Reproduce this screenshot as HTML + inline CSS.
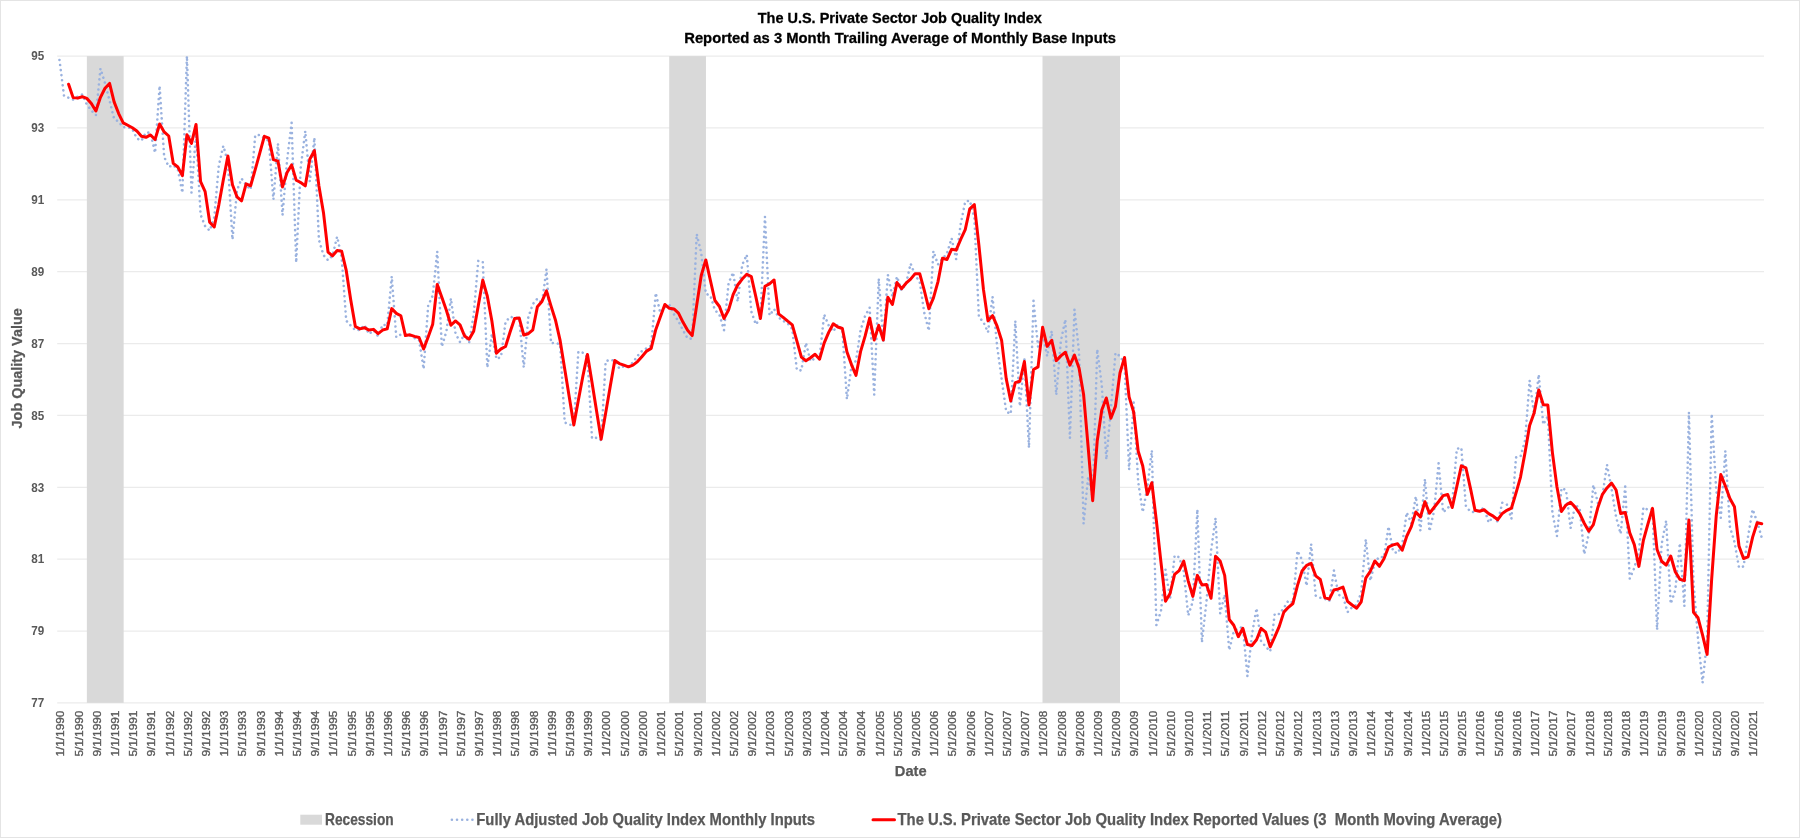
<!DOCTYPE html><html><head><meta charset="utf-8"><style>html,body{margin:0;padding:0;width:1800px;height:838px;overflow:hidden;background:#fff}</style></head><body><svg width="1800" height="838" viewBox="0 0 1800 838" style="position:absolute;left:0;top:0;will-change:transform">
<rect x="0" y="0" width="1800" height="838" fill="#fff"/>
<rect x="0.5" y="0.5" width="1799" height="837" fill="none" stroke="#e4e4e4" stroke-width="1"/>
<line x1="57.21" y1="702.89" x2="1764.03" y2="702.89" stroke="#ebebeb" stroke-width="1.2"/>
<line x1="57.21" y1="631.03" x2="1764.03" y2="631.03" stroke="#ebebeb" stroke-width="1.2"/>
<line x1="57.21" y1="559.16" x2="1764.03" y2="559.16" stroke="#ebebeb" stroke-width="1.2"/>
<line x1="57.21" y1="487.30" x2="1764.03" y2="487.30" stroke="#ebebeb" stroke-width="1.2"/>
<line x1="57.21" y1="415.43" x2="1764.03" y2="415.43" stroke="#ebebeb" stroke-width="1.2"/>
<line x1="57.21" y1="343.56" x2="1764.03" y2="343.56" stroke="#ebebeb" stroke-width="1.2"/>
<line x1="57.21" y1="271.70" x2="1764.03" y2="271.70" stroke="#ebebeb" stroke-width="1.2"/>
<line x1="57.21" y1="199.83" x2="1764.03" y2="199.83" stroke="#ebebeb" stroke-width="1.2"/>
<line x1="57.21" y1="127.97" x2="1764.03" y2="127.97" stroke="#ebebeb" stroke-width="1.2"/>
<line x1="57.21" y1="56.10" x2="1764.03" y2="56.10" stroke="#ebebeb" stroke-width="1.2"/>
<rect x="86.85" y="56.10" width="36.80" height="646.79" fill="#d9d9d9"/>
<rect x="669.20" y="56.10" width="36.75" height="646.79" fill="#d9d9d9"/>
<rect x="1042.50" y="56.10" width="77.50" height="646.79" fill="#d9d9d9"/>
<text x="44.3" y="707.19" text-anchor="end" font-family="Liberation Sans" font-weight="bold" font-size="12" fill="#595959" textLength="13" lengthAdjust="spacingAndGlyphs">77</text>
<text x="44.3" y="635.33" text-anchor="end" font-family="Liberation Sans" font-weight="bold" font-size="12" fill="#595959" textLength="13" lengthAdjust="spacingAndGlyphs">79</text>
<text x="44.3" y="563.46" text-anchor="end" font-family="Liberation Sans" font-weight="bold" font-size="12" fill="#595959" textLength="13" lengthAdjust="spacingAndGlyphs">81</text>
<text x="44.3" y="491.60" text-anchor="end" font-family="Liberation Sans" font-weight="bold" font-size="12" fill="#595959" textLength="13" lengthAdjust="spacingAndGlyphs">83</text>
<text x="44.3" y="419.73" text-anchor="end" font-family="Liberation Sans" font-weight="bold" font-size="12" fill="#595959" textLength="13" lengthAdjust="spacingAndGlyphs">85</text>
<text x="44.3" y="347.86" text-anchor="end" font-family="Liberation Sans" font-weight="bold" font-size="12" fill="#595959" textLength="13" lengthAdjust="spacingAndGlyphs">87</text>
<text x="44.3" y="276.00" text-anchor="end" font-family="Liberation Sans" font-weight="bold" font-size="12" fill="#595959" textLength="13" lengthAdjust="spacingAndGlyphs">89</text>
<text x="44.3" y="204.13" text-anchor="end" font-family="Liberation Sans" font-weight="bold" font-size="12" fill="#595959" textLength="13" lengthAdjust="spacingAndGlyphs">91</text>
<text x="44.3" y="132.27" text-anchor="end" font-family="Liberation Sans" font-weight="bold" font-size="12" fill="#595959" textLength="13" lengthAdjust="spacingAndGlyphs">93</text>
<text x="44.3" y="60.40" text-anchor="end" font-family="Liberation Sans" font-weight="bold" font-size="12" fill="#595959" textLength="13" lengthAdjust="spacingAndGlyphs">95</text>
<text transform="translate(64.29,710.6) rotate(-90)" text-anchor="end" font-family="Liberation Sans" font-weight="normal" font-size="11.5" fill="#595959" stroke="#595959" stroke-width="0.35" textLength="46" lengthAdjust="spacingAndGlyphs">1/1/1990</text>
<text transform="translate(82.50,710.6) rotate(-90)" text-anchor="end" font-family="Liberation Sans" font-weight="normal" font-size="11.5" fill="#595959" stroke="#595959" stroke-width="0.35" textLength="46" lengthAdjust="spacingAndGlyphs">5/1/1990</text>
<text transform="translate(100.70,710.6) rotate(-90)" text-anchor="end" font-family="Liberation Sans" font-weight="normal" font-size="11.5" fill="#595959" stroke="#595959" stroke-width="0.35" textLength="46" lengthAdjust="spacingAndGlyphs">9/1/1990</text>
<text transform="translate(118.91,710.6) rotate(-90)" text-anchor="end" font-family="Liberation Sans" font-weight="normal" font-size="11.5" fill="#595959" stroke="#595959" stroke-width="0.35" textLength="46" lengthAdjust="spacingAndGlyphs">1/1/1991</text>
<text transform="translate(137.11,710.6) rotate(-90)" text-anchor="end" font-family="Liberation Sans" font-weight="normal" font-size="11.5" fill="#595959" stroke="#595959" stroke-width="0.35" textLength="46" lengthAdjust="spacingAndGlyphs">5/1/1991</text>
<text transform="translate(155.32,710.6) rotate(-90)" text-anchor="end" font-family="Liberation Sans" font-weight="normal" font-size="11.5" fill="#595959" stroke="#595959" stroke-width="0.35" textLength="46" lengthAdjust="spacingAndGlyphs">9/1/1991</text>
<text transform="translate(173.53,710.6) rotate(-90)" text-anchor="end" font-family="Liberation Sans" font-weight="normal" font-size="11.5" fill="#595959" stroke="#595959" stroke-width="0.35" textLength="46" lengthAdjust="spacingAndGlyphs">1/1/1992</text>
<text transform="translate(191.73,710.6) rotate(-90)" text-anchor="end" font-family="Liberation Sans" font-weight="normal" font-size="11.5" fill="#595959" stroke="#595959" stroke-width="0.35" textLength="46" lengthAdjust="spacingAndGlyphs">5/1/1992</text>
<text transform="translate(209.94,710.6) rotate(-90)" text-anchor="end" font-family="Liberation Sans" font-weight="normal" font-size="11.5" fill="#595959" stroke="#595959" stroke-width="0.35" textLength="46" lengthAdjust="spacingAndGlyphs">9/1/1992</text>
<text transform="translate(228.14,710.6) rotate(-90)" text-anchor="end" font-family="Liberation Sans" font-weight="normal" font-size="11.5" fill="#595959" stroke="#595959" stroke-width="0.35" textLength="46" lengthAdjust="spacingAndGlyphs">1/1/1993</text>
<text transform="translate(246.35,710.6) rotate(-90)" text-anchor="end" font-family="Liberation Sans" font-weight="normal" font-size="11.5" fill="#595959" stroke="#595959" stroke-width="0.35" textLength="46" lengthAdjust="spacingAndGlyphs">5/1/1993</text>
<text transform="translate(264.56,710.6) rotate(-90)" text-anchor="end" font-family="Liberation Sans" font-weight="normal" font-size="11.5" fill="#595959" stroke="#595959" stroke-width="0.35" textLength="46" lengthAdjust="spacingAndGlyphs">9/1/1993</text>
<text transform="translate(282.76,710.6) rotate(-90)" text-anchor="end" font-family="Liberation Sans" font-weight="normal" font-size="11.5" fill="#595959" stroke="#595959" stroke-width="0.35" textLength="46" lengthAdjust="spacingAndGlyphs">1/1/1994</text>
<text transform="translate(300.97,710.6) rotate(-90)" text-anchor="end" font-family="Liberation Sans" font-weight="normal" font-size="11.5" fill="#595959" stroke="#595959" stroke-width="0.35" textLength="46" lengthAdjust="spacingAndGlyphs">5/1/1994</text>
<text transform="translate(319.17,710.6) rotate(-90)" text-anchor="end" font-family="Liberation Sans" font-weight="normal" font-size="11.5" fill="#595959" stroke="#595959" stroke-width="0.35" textLength="46" lengthAdjust="spacingAndGlyphs">9/1/1994</text>
<text transform="translate(337.38,710.6) rotate(-90)" text-anchor="end" font-family="Liberation Sans" font-weight="normal" font-size="11.5" fill="#595959" stroke="#595959" stroke-width="0.35" textLength="46" lengthAdjust="spacingAndGlyphs">1/1/1995</text>
<text transform="translate(355.59,710.6) rotate(-90)" text-anchor="end" font-family="Liberation Sans" font-weight="normal" font-size="11.5" fill="#595959" stroke="#595959" stroke-width="0.35" textLength="46" lengthAdjust="spacingAndGlyphs">5/1/1995</text>
<text transform="translate(373.79,710.6) rotate(-90)" text-anchor="end" font-family="Liberation Sans" font-weight="normal" font-size="11.5" fill="#595959" stroke="#595959" stroke-width="0.35" textLength="46" lengthAdjust="spacingAndGlyphs">9/1/1995</text>
<text transform="translate(392.00,710.6) rotate(-90)" text-anchor="end" font-family="Liberation Sans" font-weight="normal" font-size="11.5" fill="#595959" stroke="#595959" stroke-width="0.35" textLength="46" lengthAdjust="spacingAndGlyphs">1/1/1996</text>
<text transform="translate(410.20,710.6) rotate(-90)" text-anchor="end" font-family="Liberation Sans" font-weight="normal" font-size="11.5" fill="#595959" stroke="#595959" stroke-width="0.35" textLength="46" lengthAdjust="spacingAndGlyphs">5/1/1996</text>
<text transform="translate(428.41,710.6) rotate(-90)" text-anchor="end" font-family="Liberation Sans" font-weight="normal" font-size="11.5" fill="#595959" stroke="#595959" stroke-width="0.35" textLength="46" lengthAdjust="spacingAndGlyphs">9/1/1996</text>
<text transform="translate(446.62,710.6) rotate(-90)" text-anchor="end" font-family="Liberation Sans" font-weight="normal" font-size="11.5" fill="#595959" stroke="#595959" stroke-width="0.35" textLength="46" lengthAdjust="spacingAndGlyphs">1/1/1997</text>
<text transform="translate(464.82,710.6) rotate(-90)" text-anchor="end" font-family="Liberation Sans" font-weight="normal" font-size="11.5" fill="#595959" stroke="#595959" stroke-width="0.35" textLength="46" lengthAdjust="spacingAndGlyphs">5/1/1997</text>
<text transform="translate(483.03,710.6) rotate(-90)" text-anchor="end" font-family="Liberation Sans" font-weight="normal" font-size="11.5" fill="#595959" stroke="#595959" stroke-width="0.35" textLength="46" lengthAdjust="spacingAndGlyphs">9/1/1997</text>
<text transform="translate(501.23,710.6) rotate(-90)" text-anchor="end" font-family="Liberation Sans" font-weight="normal" font-size="11.5" fill="#595959" stroke="#595959" stroke-width="0.35" textLength="46" lengthAdjust="spacingAndGlyphs">1/1/1998</text>
<text transform="translate(519.44,710.6) rotate(-90)" text-anchor="end" font-family="Liberation Sans" font-weight="normal" font-size="11.5" fill="#595959" stroke="#595959" stroke-width="0.35" textLength="46" lengthAdjust="spacingAndGlyphs">5/1/1998</text>
<text transform="translate(537.65,710.6) rotate(-90)" text-anchor="end" font-family="Liberation Sans" font-weight="normal" font-size="11.5" fill="#595959" stroke="#595959" stroke-width="0.35" textLength="46" lengthAdjust="spacingAndGlyphs">9/1/1998</text>
<text transform="translate(555.85,710.6) rotate(-90)" text-anchor="end" font-family="Liberation Sans" font-weight="normal" font-size="11.5" fill="#595959" stroke="#595959" stroke-width="0.35" textLength="46" lengthAdjust="spacingAndGlyphs">1/1/1999</text>
<text transform="translate(574.06,710.6) rotate(-90)" text-anchor="end" font-family="Liberation Sans" font-weight="normal" font-size="11.5" fill="#595959" stroke="#595959" stroke-width="0.35" textLength="46" lengthAdjust="spacingAndGlyphs">5/1/1999</text>
<text transform="translate(592.26,710.6) rotate(-90)" text-anchor="end" font-family="Liberation Sans" font-weight="normal" font-size="11.5" fill="#595959" stroke="#595959" stroke-width="0.35" textLength="46" lengthAdjust="spacingAndGlyphs">9/1/1999</text>
<text transform="translate(610.47,710.6) rotate(-90)" text-anchor="end" font-family="Liberation Sans" font-weight="normal" font-size="11.5" fill="#595959" stroke="#595959" stroke-width="0.35" textLength="46" lengthAdjust="spacingAndGlyphs">1/1/2000</text>
<text transform="translate(628.68,710.6) rotate(-90)" text-anchor="end" font-family="Liberation Sans" font-weight="normal" font-size="11.5" fill="#595959" stroke="#595959" stroke-width="0.35" textLength="46" lengthAdjust="spacingAndGlyphs">5/1/2000</text>
<text transform="translate(646.88,710.6) rotate(-90)" text-anchor="end" font-family="Liberation Sans" font-weight="normal" font-size="11.5" fill="#595959" stroke="#595959" stroke-width="0.35" textLength="46" lengthAdjust="spacingAndGlyphs">9/1/2000</text>
<text transform="translate(665.09,710.6) rotate(-90)" text-anchor="end" font-family="Liberation Sans" font-weight="normal" font-size="11.5" fill="#595959" stroke="#595959" stroke-width="0.35" textLength="46" lengthAdjust="spacingAndGlyphs">1/1/2001</text>
<text transform="translate(683.29,710.6) rotate(-90)" text-anchor="end" font-family="Liberation Sans" font-weight="normal" font-size="11.5" fill="#595959" stroke="#595959" stroke-width="0.35" textLength="46" lengthAdjust="spacingAndGlyphs">5/1/2001</text>
<text transform="translate(701.50,710.6) rotate(-90)" text-anchor="end" font-family="Liberation Sans" font-weight="normal" font-size="11.5" fill="#595959" stroke="#595959" stroke-width="0.35" textLength="46" lengthAdjust="spacingAndGlyphs">9/1/2001</text>
<text transform="translate(719.71,710.6) rotate(-90)" text-anchor="end" font-family="Liberation Sans" font-weight="normal" font-size="11.5" fill="#595959" stroke="#595959" stroke-width="0.35" textLength="46" lengthAdjust="spacingAndGlyphs">1/1/2002</text>
<text transform="translate(737.91,710.6) rotate(-90)" text-anchor="end" font-family="Liberation Sans" font-weight="normal" font-size="11.5" fill="#595959" stroke="#595959" stroke-width="0.35" textLength="46" lengthAdjust="spacingAndGlyphs">5/1/2002</text>
<text transform="translate(756.12,710.6) rotate(-90)" text-anchor="end" font-family="Liberation Sans" font-weight="normal" font-size="11.5" fill="#595959" stroke="#595959" stroke-width="0.35" textLength="46" lengthAdjust="spacingAndGlyphs">9/1/2002</text>
<text transform="translate(774.32,710.6) rotate(-90)" text-anchor="end" font-family="Liberation Sans" font-weight="normal" font-size="11.5" fill="#595959" stroke="#595959" stroke-width="0.35" textLength="46" lengthAdjust="spacingAndGlyphs">1/1/2003</text>
<text transform="translate(792.53,710.6) rotate(-90)" text-anchor="end" font-family="Liberation Sans" font-weight="normal" font-size="11.5" fill="#595959" stroke="#595959" stroke-width="0.35" textLength="46" lengthAdjust="spacingAndGlyphs">5/1/2003</text>
<text transform="translate(810.74,710.6) rotate(-90)" text-anchor="end" font-family="Liberation Sans" font-weight="normal" font-size="11.5" fill="#595959" stroke="#595959" stroke-width="0.35" textLength="46" lengthAdjust="spacingAndGlyphs">9/1/2003</text>
<text transform="translate(828.94,710.6) rotate(-90)" text-anchor="end" font-family="Liberation Sans" font-weight="normal" font-size="11.5" fill="#595959" stroke="#595959" stroke-width="0.35" textLength="46" lengthAdjust="spacingAndGlyphs">1/1/2004</text>
<text transform="translate(847.15,710.6) rotate(-90)" text-anchor="end" font-family="Liberation Sans" font-weight="normal" font-size="11.5" fill="#595959" stroke="#595959" stroke-width="0.35" textLength="46" lengthAdjust="spacingAndGlyphs">5/1/2004</text>
<text transform="translate(865.35,710.6) rotate(-90)" text-anchor="end" font-family="Liberation Sans" font-weight="normal" font-size="11.5" fill="#595959" stroke="#595959" stroke-width="0.35" textLength="46" lengthAdjust="spacingAndGlyphs">9/1/2004</text>
<text transform="translate(883.56,710.6) rotate(-90)" text-anchor="end" font-family="Liberation Sans" font-weight="normal" font-size="11.5" fill="#595959" stroke="#595959" stroke-width="0.35" textLength="46" lengthAdjust="spacingAndGlyphs">1/1/2005</text>
<text transform="translate(901.77,710.6) rotate(-90)" text-anchor="end" font-family="Liberation Sans" font-weight="normal" font-size="11.5" fill="#595959" stroke="#595959" stroke-width="0.35" textLength="46" lengthAdjust="spacingAndGlyphs">5/1/2005</text>
<text transform="translate(919.97,710.6) rotate(-90)" text-anchor="end" font-family="Liberation Sans" font-weight="normal" font-size="11.5" fill="#595959" stroke="#595959" stroke-width="0.35" textLength="46" lengthAdjust="spacingAndGlyphs">9/1/2005</text>
<text transform="translate(938.18,710.6) rotate(-90)" text-anchor="end" font-family="Liberation Sans" font-weight="normal" font-size="11.5" fill="#595959" stroke="#595959" stroke-width="0.35" textLength="46" lengthAdjust="spacingAndGlyphs">1/1/2006</text>
<text transform="translate(956.38,710.6) rotate(-90)" text-anchor="end" font-family="Liberation Sans" font-weight="normal" font-size="11.5" fill="#595959" stroke="#595959" stroke-width="0.35" textLength="46" lengthAdjust="spacingAndGlyphs">5/1/2006</text>
<text transform="translate(974.59,710.6) rotate(-90)" text-anchor="end" font-family="Liberation Sans" font-weight="normal" font-size="11.5" fill="#595959" stroke="#595959" stroke-width="0.35" textLength="46" lengthAdjust="spacingAndGlyphs">9/1/2006</text>
<text transform="translate(992.80,710.6) rotate(-90)" text-anchor="end" font-family="Liberation Sans" font-weight="normal" font-size="11.5" fill="#595959" stroke="#595959" stroke-width="0.35" textLength="46" lengthAdjust="spacingAndGlyphs">1/1/2007</text>
<text transform="translate(1011.00,710.6) rotate(-90)" text-anchor="end" font-family="Liberation Sans" font-weight="normal" font-size="11.5" fill="#595959" stroke="#595959" stroke-width="0.35" textLength="46" lengthAdjust="spacingAndGlyphs">5/1/2007</text>
<text transform="translate(1029.21,710.6) rotate(-90)" text-anchor="end" font-family="Liberation Sans" font-weight="normal" font-size="11.5" fill="#595959" stroke="#595959" stroke-width="0.35" textLength="46" lengthAdjust="spacingAndGlyphs">9/1/2007</text>
<text transform="translate(1047.41,710.6) rotate(-90)" text-anchor="end" font-family="Liberation Sans" font-weight="normal" font-size="11.5" fill="#595959" stroke="#595959" stroke-width="0.35" textLength="46" lengthAdjust="spacingAndGlyphs">1/1/2008</text>
<text transform="translate(1065.62,710.6) rotate(-90)" text-anchor="end" font-family="Liberation Sans" font-weight="normal" font-size="11.5" fill="#595959" stroke="#595959" stroke-width="0.35" textLength="46" lengthAdjust="spacingAndGlyphs">5/1/2008</text>
<text transform="translate(1083.83,710.6) rotate(-90)" text-anchor="end" font-family="Liberation Sans" font-weight="normal" font-size="11.5" fill="#595959" stroke="#595959" stroke-width="0.35" textLength="46" lengthAdjust="spacingAndGlyphs">9/1/2008</text>
<text transform="translate(1102.03,710.6) rotate(-90)" text-anchor="end" font-family="Liberation Sans" font-weight="normal" font-size="11.5" fill="#595959" stroke="#595959" stroke-width="0.35" textLength="46" lengthAdjust="spacingAndGlyphs">1/1/2009</text>
<text transform="translate(1120.24,710.6) rotate(-90)" text-anchor="end" font-family="Liberation Sans" font-weight="normal" font-size="11.5" fill="#595959" stroke="#595959" stroke-width="0.35" textLength="46" lengthAdjust="spacingAndGlyphs">5/1/2009</text>
<text transform="translate(1138.44,710.6) rotate(-90)" text-anchor="end" font-family="Liberation Sans" font-weight="normal" font-size="11.5" fill="#595959" stroke="#595959" stroke-width="0.35" textLength="46" lengthAdjust="spacingAndGlyphs">9/1/2009</text>
<text transform="translate(1156.65,710.6) rotate(-90)" text-anchor="end" font-family="Liberation Sans" font-weight="normal" font-size="11.5" fill="#595959" stroke="#595959" stroke-width="0.35" textLength="46" lengthAdjust="spacingAndGlyphs">1/1/2010</text>
<text transform="translate(1174.86,710.6) rotate(-90)" text-anchor="end" font-family="Liberation Sans" font-weight="normal" font-size="11.5" fill="#595959" stroke="#595959" stroke-width="0.35" textLength="46" lengthAdjust="spacingAndGlyphs">5/1/2010</text>
<text transform="translate(1193.06,710.6) rotate(-90)" text-anchor="end" font-family="Liberation Sans" font-weight="normal" font-size="11.5" fill="#595959" stroke="#595959" stroke-width="0.35" textLength="46" lengthAdjust="spacingAndGlyphs">9/1/2010</text>
<text transform="translate(1211.27,710.6) rotate(-90)" text-anchor="end" font-family="Liberation Sans" font-weight="normal" font-size="11.5" fill="#595959" stroke="#595959" stroke-width="0.35" textLength="46" lengthAdjust="spacingAndGlyphs">1/1/2011</text>
<text transform="translate(1229.47,710.6) rotate(-90)" text-anchor="end" font-family="Liberation Sans" font-weight="normal" font-size="11.5" fill="#595959" stroke="#595959" stroke-width="0.35" textLength="46" lengthAdjust="spacingAndGlyphs">5/1/2011</text>
<text transform="translate(1247.68,710.6) rotate(-90)" text-anchor="end" font-family="Liberation Sans" font-weight="normal" font-size="11.5" fill="#595959" stroke="#595959" stroke-width="0.35" textLength="46" lengthAdjust="spacingAndGlyphs">9/1/2011</text>
<text transform="translate(1265.89,710.6) rotate(-90)" text-anchor="end" font-family="Liberation Sans" font-weight="normal" font-size="11.5" fill="#595959" stroke="#595959" stroke-width="0.35" textLength="46" lengthAdjust="spacingAndGlyphs">1/1/2012</text>
<text transform="translate(1284.09,710.6) rotate(-90)" text-anchor="end" font-family="Liberation Sans" font-weight="normal" font-size="11.5" fill="#595959" stroke="#595959" stroke-width="0.35" textLength="46" lengthAdjust="spacingAndGlyphs">5/1/2012</text>
<text transform="translate(1302.30,710.6) rotate(-90)" text-anchor="end" font-family="Liberation Sans" font-weight="normal" font-size="11.5" fill="#595959" stroke="#595959" stroke-width="0.35" textLength="46" lengthAdjust="spacingAndGlyphs">9/1/2012</text>
<text transform="translate(1320.50,710.6) rotate(-90)" text-anchor="end" font-family="Liberation Sans" font-weight="normal" font-size="11.5" fill="#595959" stroke="#595959" stroke-width="0.35" textLength="46" lengthAdjust="spacingAndGlyphs">1/1/2013</text>
<text transform="translate(1338.71,710.6) rotate(-90)" text-anchor="end" font-family="Liberation Sans" font-weight="normal" font-size="11.5" fill="#595959" stroke="#595959" stroke-width="0.35" textLength="46" lengthAdjust="spacingAndGlyphs">5/1/2013</text>
<text transform="translate(1356.92,710.6) rotate(-90)" text-anchor="end" font-family="Liberation Sans" font-weight="normal" font-size="11.5" fill="#595959" stroke="#595959" stroke-width="0.35" textLength="46" lengthAdjust="spacingAndGlyphs">9/1/2013</text>
<text transform="translate(1375.12,710.6) rotate(-90)" text-anchor="end" font-family="Liberation Sans" font-weight="normal" font-size="11.5" fill="#595959" stroke="#595959" stroke-width="0.35" textLength="46" lengthAdjust="spacingAndGlyphs">1/1/2014</text>
<text transform="translate(1393.33,710.6) rotate(-90)" text-anchor="end" font-family="Liberation Sans" font-weight="normal" font-size="11.5" fill="#595959" stroke="#595959" stroke-width="0.35" textLength="46" lengthAdjust="spacingAndGlyphs">5/1/2014</text>
<text transform="translate(1411.53,710.6) rotate(-90)" text-anchor="end" font-family="Liberation Sans" font-weight="normal" font-size="11.5" fill="#595959" stroke="#595959" stroke-width="0.35" textLength="46" lengthAdjust="spacingAndGlyphs">9/1/2014</text>
<text transform="translate(1429.74,710.6) rotate(-90)" text-anchor="end" font-family="Liberation Sans" font-weight="normal" font-size="11.5" fill="#595959" stroke="#595959" stroke-width="0.35" textLength="46" lengthAdjust="spacingAndGlyphs">1/1/2015</text>
<text transform="translate(1447.95,710.6) rotate(-90)" text-anchor="end" font-family="Liberation Sans" font-weight="normal" font-size="11.5" fill="#595959" stroke="#595959" stroke-width="0.35" textLength="46" lengthAdjust="spacingAndGlyphs">5/1/2015</text>
<text transform="translate(1466.15,710.6) rotate(-90)" text-anchor="end" font-family="Liberation Sans" font-weight="normal" font-size="11.5" fill="#595959" stroke="#595959" stroke-width="0.35" textLength="46" lengthAdjust="spacingAndGlyphs">9/1/2015</text>
<text transform="translate(1484.36,710.6) rotate(-90)" text-anchor="end" font-family="Liberation Sans" font-weight="normal" font-size="11.5" fill="#595959" stroke="#595959" stroke-width="0.35" textLength="46" lengthAdjust="spacingAndGlyphs">1/1/2016</text>
<text transform="translate(1502.56,710.6) rotate(-90)" text-anchor="end" font-family="Liberation Sans" font-weight="normal" font-size="11.5" fill="#595959" stroke="#595959" stroke-width="0.35" textLength="46" lengthAdjust="spacingAndGlyphs">5/1/2016</text>
<text transform="translate(1520.77,710.6) rotate(-90)" text-anchor="end" font-family="Liberation Sans" font-weight="normal" font-size="11.5" fill="#595959" stroke="#595959" stroke-width="0.35" textLength="46" lengthAdjust="spacingAndGlyphs">9/1/2016</text>
<text transform="translate(1538.98,710.6) rotate(-90)" text-anchor="end" font-family="Liberation Sans" font-weight="normal" font-size="11.5" fill="#595959" stroke="#595959" stroke-width="0.35" textLength="46" lengthAdjust="spacingAndGlyphs">1/1/2017</text>
<text transform="translate(1557.18,710.6) rotate(-90)" text-anchor="end" font-family="Liberation Sans" font-weight="normal" font-size="11.5" fill="#595959" stroke="#595959" stroke-width="0.35" textLength="46" lengthAdjust="spacingAndGlyphs">5/1/2017</text>
<text transform="translate(1575.39,710.6) rotate(-90)" text-anchor="end" font-family="Liberation Sans" font-weight="normal" font-size="11.5" fill="#595959" stroke="#595959" stroke-width="0.35" textLength="46" lengthAdjust="spacingAndGlyphs">9/1/2017</text>
<text transform="translate(1593.59,710.6) rotate(-90)" text-anchor="end" font-family="Liberation Sans" font-weight="normal" font-size="11.5" fill="#595959" stroke="#595959" stroke-width="0.35" textLength="46" lengthAdjust="spacingAndGlyphs">1/1/2018</text>
<text transform="translate(1611.80,710.6) rotate(-90)" text-anchor="end" font-family="Liberation Sans" font-weight="normal" font-size="11.5" fill="#595959" stroke="#595959" stroke-width="0.35" textLength="46" lengthAdjust="spacingAndGlyphs">5/1/2018</text>
<text transform="translate(1630.01,710.6) rotate(-90)" text-anchor="end" font-family="Liberation Sans" font-weight="normal" font-size="11.5" fill="#595959" stroke="#595959" stroke-width="0.35" textLength="46" lengthAdjust="spacingAndGlyphs">9/1/2018</text>
<text transform="translate(1648.21,710.6) rotate(-90)" text-anchor="end" font-family="Liberation Sans" font-weight="normal" font-size="11.5" fill="#595959" stroke="#595959" stroke-width="0.35" textLength="46" lengthAdjust="spacingAndGlyphs">1/1/2019</text>
<text transform="translate(1666.42,710.6) rotate(-90)" text-anchor="end" font-family="Liberation Sans" font-weight="normal" font-size="11.5" fill="#595959" stroke="#595959" stroke-width="0.35" textLength="46" lengthAdjust="spacingAndGlyphs">5/1/2019</text>
<text transform="translate(1684.62,710.6) rotate(-90)" text-anchor="end" font-family="Liberation Sans" font-weight="normal" font-size="11.5" fill="#595959" stroke="#595959" stroke-width="0.35" textLength="46" lengthAdjust="spacingAndGlyphs">9/1/2019</text>
<text transform="translate(1702.83,710.6) rotate(-90)" text-anchor="end" font-family="Liberation Sans" font-weight="normal" font-size="11.5" fill="#595959" stroke="#595959" stroke-width="0.35" textLength="46" lengthAdjust="spacingAndGlyphs">1/1/2020</text>
<text transform="translate(1721.04,710.6) rotate(-90)" text-anchor="end" font-family="Liberation Sans" font-weight="normal" font-size="11.5" fill="#595959" stroke="#595959" stroke-width="0.35" textLength="46" lengthAdjust="spacingAndGlyphs">5/1/2020</text>
<text transform="translate(1739.24,710.6) rotate(-90)" text-anchor="end" font-family="Liberation Sans" font-weight="normal" font-size="11.5" fill="#595959" stroke="#595959" stroke-width="0.35" textLength="46" lengthAdjust="spacingAndGlyphs">9/1/2020</text>
<text transform="translate(1757.45,710.6) rotate(-90)" text-anchor="end" font-family="Liberation Sans" font-weight="normal" font-size="11.5" fill="#595959" stroke="#595959" stroke-width="0.35" textLength="46" lengthAdjust="spacingAndGlyphs">1/1/2021</text>
<path d="M59.49,59.97 L64.04,95.98 L68.59,97.73 L73.14,99.50 L77.70,96.57 L82.25,94.43 L86.80,104.52 L91.35,110.47 L95.90,115.15 L100.45,68.53 L105.00,83.07 L109.56,100.60 L114.11,118.86 L118.66,121.67 L123.21,127.24 L127.76,127.09 L132.31,129.08 L136.87,138.47 L141.42,140.73 L145.97,132.46 L150.52,132.83 L155.07,152.84 L159.62,85.78 L164.17,156.93 L168.73,166.78 L173.28,165.21 L177.83,169.21 L182.38,192.85 L186.93,56.10 L191.48,192.58 L196.03,133.24 L200.59,214.68 L205.14,226.19 L209.69,230.66 L214.24,217.39 L218.79,165.60 L223.34,145.85 L227.90,162.18 L232.45,239.56 L237.00,190.36 L241.55,178.56 L246.10,184.85 L250.65,189.64 L255.20,135.38 L259.76,134.99 L264.31,138.34 L268.86,140.90 L273.41,199.61 L277.96,143.63 L282.51,215.14 L287.06,160.42 L291.62,122.84 L296.17,262.61 L300.72,167.60 L305.27,131.06 L309.82,181.46 L314.37,137.77 L318.93,239.86 L323.48,255.14 L328.03,260.30 L332.58,255.35 L337.13,236.65 L341.68,257.66 L346.23,320.63 L350.79,325.72 L355.34,330.17 L359.89,329.98 L364.44,324.97 L368.99,334.04 L373.54,330.24 L378.10,336.12 L382.65,324.61 L387.20,325.48 L391.75,276.41 L396.30,337.24 L400.85,334.48 L405.40,334.57 L409.96,335.61 L414.51,337.98 L419.06,340.18 L423.61,368.96 L428.16,305.69 L432.71,295.56 L437.26,251.49 L441.82,346.80 L446.37,331.49 L450.92,298.41 L455.47,333.17 L460.02,342.08 L464.57,333.96 L469.12,342.90 L473.68,314.42 L478.23,260.92 L482.78,261.68 L487.33,367.67 L491.88,333.57 L496.43,359.07 L500.99,356.79 L505.54,322.05 L510.09,316.80 L514.64,317.81 L519.19,317.99 L523.74,367.48 L528.29,317.31 L532.85,304.01 L537.40,298.61 L541.95,303.11 L546.50,269.19 L551.05,343.18 L555.60,342.84 L560.15,344.43 L564.71,422.52 L569.26,424.58 L573.81,425.43 L578.36,351.68 L582.91,352.73 L587.46,357.39 L592.02,438.44 L596.57,437.81 L601.12,440.23 L605.67,361.23 L610.22,359.65 L614.77,360.89 L619.32,368.44 L623.88,366.16 L628.43,366.23 L632.98,362.44 L637.53,355.89 L642.08,350.76 L646.63,348.32 L651.18,345.65 L655.74,293.01 L660.29,312.81 L664.84,307.20 L669.39,304.89 L673.94,314.27 L678.49,321.34 L683.05,330.31 L687.60,338.51 L692.15,338.68 L696.70,234.05 L701.25,253.17 L705.80,293.81 L710.35,295.51 L714.91,310.03 L719.46,314.85 L724.01,330.16 L728.56,283.21 L733.11,272.46 L737.66,301.69 L742.22,264.87 L746.77,254.69 L751.32,311.53 L755.87,324.47 L760.42,317.70 L764.97,216.75 L769.52,315.41 L774.08,309.04 L778.63,317.45 L783.18,321.02 L787.73,323.34 L792.28,329.00 L796.83,369.88 L801.38,370.46 L805.94,342.87 L810.49,361.19 L815.04,358.24 L819.59,357.37 L824.14,314.52 L828.69,325.36 L833.25,331.59 L837.80,324.31 L842.35,330.04 L846.90,399.27 L851.45,366.10 L856.00,360.76 L860.55,330.29 L865.11,315.90 L869.66,307.70 L874.21,394.75 L878.76,278.71 L883.31,340.78 L887.86,274.76 L892.41,296.74 L896.97,276.57 L901.52,290.39 L906.07,283.64 L910.62,263.59 L915.17,275.25 L919.72,281.85 L924.27,312.76 L928.83,330.74 L933.38,251.13 L937.93,264.49 L942.48,258.66 L947.03,253.35 L951.58,238.23 L956.14,259.22 L960.69,223.99 L965.24,201.58 L969.79,200.62 L974.34,217.58 L978.89,317.05 L983.44,322.18 L988.00,332.38 L992.55,296.68 L997.10,346.09 L1001.65,379.06 L1006.20,411.68 L1010.75,413.97 L1015.30,320.75 L1019.86,406.33 L1024.41,359.01 L1028.96,447.70 L1033.51,300.79 L1038.06,346.87 L1042.61,334.04 L1047.17,356.31 L1051.72,331.05 L1056.27,394.96 L1060.82,341.37 L1065.37,319.47 L1069.92,438.12 L1074.47,309.43 L1079.03,351.94 L1083.58,523.77 L1088.13,476.44 L1092.68,497.55 L1097.23,349.34 L1101.78,384.95 L1106.34,459.60 L1110.89,408.53 L1115.44,353.02 L1119.99,356.03 L1124.54,363.87 L1129.09,469.76 L1133.64,402.63 L1138.20,481.98 L1142.75,512.20 L1147.30,487.66 L1151.85,450.31 L1156.40,625.06 L1160.95,610.96 L1165.50,569.67 L1170.06,598.64 L1174.61,555.58 L1179.16,557.19 L1183.71,571.27 L1188.26,615.46 L1192.81,601.43 L1197.37,509.42 L1201.92,642.45 L1206.47,601.37 L1211.02,550.90 L1215.57,518.01 L1220.12,613.51 L1224.67,594.69 L1229.23,650.13 L1233.78,631.38 L1238.33,628.08 L1242.88,627.05 L1247.43,676.36 L1251.98,634.61 L1256.53,608.23 L1261.09,641.47 L1265.64,646.35 L1270.19,651.46 L1274.74,613.73 L1279.29,614.05 L1283.84,607.89 L1288.39,600.54 L1292.95,602.70 L1297.50,550.85 L1302.05,560.00 L1306.60,585.89 L1311.15,543.96 L1315.70,595.58 L1320.26,597.76 L1324.81,598.96 L1329.36,601.12 L1333.91,570.41 L1338.46,594.76 L1343.01,596.61 L1347.56,612.09 L1352.12,607.22 L1356.67,604.81 L1361.22,592.54 L1365.77,539.40 L1370.32,580.72 L1374.87,562.22 L1379.42,556.68 L1383.98,557.33 L1388.53,526.56 L1393.08,551.49 L1397.63,553.19 L1402.18,544.74 L1406.73,512.50 L1411.29,523.40 L1415.84,496.41 L1420.39,530.69 L1424.94,479.00 L1429.49,531.32 L1434.04,511.06 L1438.59,463.24 L1443.15,512.17 L1447.70,508.32 L1452.25,501.76 L1456.80,448.80 L1461.35,447.84 L1465.90,506.08 L1470.45,511.71 L1475.01,512.28 L1479.56,509.88 L1484.11,508.02 L1488.66,522.50 L1493.21,516.53 L1497.76,521.85 L1502.32,502.71 L1506.87,504.54 L1511.42,518.83 L1515.97,457.43 L1520.52,456.51 L1525.07,440.31 L1529.62,380.53 L1534.18,414.96 L1538.73,374.54 L1543.28,424.50 L1547.83,416.11 L1552.38,512.43 L1556.93,536.25 L1561.48,488.10 L1566.04,490.11 L1570.59,528.24 L1575.14,505.06 L1579.69,508.04 L1584.24,554.10 L1588.79,533.97 L1593.35,484.85 L1597.90,503.10 L1602.45,495.60 L1607.00,464.58 L1611.55,488.79 L1616.10,517.28 L1620.65,533.83 L1625.21,486.57 L1629.76,578.54 L1634.31,567.91 L1638.86,551.05 L1643.41,507.42 L1647.96,509.77 L1652.51,509.28 L1657.07,629.75 L1661.62,544.35 L1666.17,520.62 L1670.72,603.69 L1675.27,590.36 L1679.82,543.22 L1684.38,606.22 L1688.93,412.32 L1693.48,581.69 L1698.03,638.50 L1702.58,682.80 L1707.13,640.21 L1711.68,413.86 L1716.24,490.45 L1720.79,517.76 L1725.34,450.82 L1729.89,526.66 L1734.44,541.90 L1738.99,567.52 L1743.55,566.45 L1748.10,536.20 L1752.65,509.42 L1757.20,522.03 L1761.75,537.67" fill="none" stroke="#9ab2df" stroke-width="2.6" stroke-dasharray="0.01 5.1" stroke-linecap="round" stroke-linejoin="round"/>
<path d="M68.59,84.24 L73.14,97.63 L77.70,98.13 L82.25,96.70 L86.80,98.38 L91.35,103.42 L95.90,111.01 L100.45,97.32 L105.00,88.29 L109.56,83.43 L114.11,101.91 L118.66,113.54 L123.21,122.81 L127.76,125.29 L132.31,127.80 L136.87,131.07 L141.42,136.25 L145.97,137.30 L150.52,134.93 L155.07,139.55 L159.62,123.98 L164.17,131.89 L168.73,136.01 L173.28,163.40 L177.83,167.04 L182.38,175.64 L186.93,134.83 L191.48,143.31 L196.03,124.46 L200.59,181.74 L205.14,191.65 L209.69,222.18 L214.24,226.92 L218.79,205.10 L223.34,179.79 L227.90,156.07 L232.45,184.78 L237.00,196.78 L241.55,200.82 L246.10,183.85 L250.65,185.76 L255.20,169.69 L259.76,153.08 L264.31,136.28 L268.86,138.19 L273.41,159.57 L277.96,161.10 L282.51,186.87 L287.06,172.55 L291.62,164.92 L296.17,180.19 L300.72,182.48 L305.27,185.92 L309.82,159.19 L314.37,150.60 L318.93,185.92 L323.48,212.65 L328.03,252.11 L332.58,255.82 L337.13,250.52 L341.68,251.31 L346.23,270.41 L350.79,300.24 L355.34,326.49 L359.89,328.88 L364.44,327.68 L368.99,330.07 L373.54,329.36 L378.10,333.65 L382.65,330.07 L387.20,328.88 L391.75,308.59 L396.30,313.37 L400.85,315.75 L405.40,335.56 L409.96,334.84 L414.51,336.35 L419.06,337.48 L423.61,349.01 L428.16,337.06 L432.71,324.18 L437.26,284.44 L441.82,297.33 L446.37,310.21 L450.92,325.25 L455.47,320.95 L460.02,324.82 L464.57,335.99 L469.12,339.21 L473.68,331.26 L478.23,305.92 L482.78,280.14 L487.33,296.25 L491.88,320.95 L496.43,353.17 L500.99,348.88 L505.54,346.54 L510.09,332.01 L514.64,318.42 L519.19,317.95 L523.74,335.01 L528.29,333.70 L532.85,329.76 L537.40,306.66 L541.95,301.41 L546.50,290.91 L551.05,306.13 L555.60,320.57 L560.15,340.64 L564.71,368.92 L569.26,397.10 L573.81,425.07 L578.36,400.16 L582.91,376.07 L587.46,354.42 L592.02,382.50 L596.57,411.09 L601.12,439.16 L605.67,413.05 L610.22,386.49 L614.77,360.44 L619.32,363.56 L623.88,365.07 L628.43,366.86 L632.98,365.07 L637.53,361.60 L642.08,356.43 L646.63,351.09 L651.18,348.41 L655.74,329.70 L660.29,316.92 L664.84,304.51 L669.39,308.33 L673.94,308.90 L678.49,313.10 L683.05,322.36 L687.60,330.32 L692.15,335.62 L696.70,305.30 L701.25,275.47 L705.80,259.95 L710.35,280.24 L714.91,300.53 L719.46,306.49 L724.01,318.42 L728.56,310.07 L733.11,294.56 L737.66,285.01 L742.22,279.05 L746.77,274.27 L751.32,276.66 L755.87,296.95 L760.42,318.42 L764.97,286.21 L769.52,283.82 L774.08,279.97 L778.63,313.89 L783.18,317.33 L787.73,321.19 L792.28,324.84 L796.83,340.95 L801.38,357.06 L805.94,360.72 L810.49,357.71 L815.04,354.27 L819.59,359.21 L824.14,343.10 L828.69,332.36 L833.25,323.77 L837.80,326.99 L842.35,328.50 L846.90,351.69 L851.45,364.58 L856.00,375.32 L860.55,351.69 L865.11,336.20 L869.66,318.10 L874.21,340.05 L878.76,325.37 L883.31,340.05 L887.86,297.24 L892.41,304.49 L896.97,282.58 L901.52,288.72 L906.07,283.18 L910.62,279.09 L915.17,273.63 L919.72,273.63 L924.27,290.42 L928.83,308.75 L933.38,298.09 L937.93,281.87 L942.48,258.22 L947.03,259.50 L951.58,249.27 L956.14,250.12 L960.69,239.47 L965.24,229.67 L969.79,208.78 L974.34,204.61 L978.89,245.09 L983.44,289.38 L988.00,320.88 L992.55,315.63 L997.10,326.13 L1001.65,340.57 L1006.20,378.64 L1010.75,400.95 L1015.30,382.58 L1019.86,381.26 L1024.41,361.58 L1028.96,404.89 L1033.51,369.45 L1038.06,366.83 L1042.61,327.31 L1047.17,346.30 L1051.72,340.28 L1056.27,360.66 L1060.82,355.87 L1065.37,352.29 L1069.92,365.18 L1074.47,355.16 L1079.03,368.04 L1083.58,394.44 L1088.13,446.95 L1092.68,500.64 L1097.23,440.98 L1101.78,409.95 L1106.34,398.02 L1110.89,418.31 L1115.44,406.37 L1119.99,372.96 L1124.54,357.45 L1129.09,396.83 L1133.64,411.96 L1138.20,451.27 L1142.75,465.99 L1147.30,494.39 L1151.85,482.70 L1156.40,521.01 L1160.95,562.11 L1165.50,601.15 L1170.06,593.51 L1174.61,574.42 L1179.16,570.60 L1183.71,561.05 L1188.26,581.10 L1192.81,596.37 L1197.37,575.37 L1201.92,584.92 L1206.47,584.53 L1211.02,598.28 L1215.57,556.28 L1220.12,561.05 L1224.67,575.37 L1229.23,619.51 L1233.78,625.24 L1238.33,636.69 L1242.88,628.33 L1247.43,644.56 L1251.98,645.51 L1256.53,639.79 L1261.09,628.33 L1265.64,632.15 L1270.19,646.85 L1274.74,636.92 L1279.29,626.42 L1283.84,612.10 L1288.39,607.33 L1292.95,603.51 L1297.50,585.37 L1302.05,571.05 L1306.60,565.32 L1311.15,563.41 L1315.70,575.82 L1320.26,579.44 L1324.81,597.63 L1329.36,599.19 L1333.91,589.95 L1338.46,588.88 L1343.01,587.16 L1347.56,601.34 L1352.12,604.99 L1356.67,608.21 L1361.22,601.77 L1365.77,578.14 L1370.32,571.26 L1374.87,560.95 L1379.42,566.32 L1383.98,558.81 L1388.53,546.99 L1393.08,544.84 L1397.63,543.77 L1402.18,550.21 L1406.73,536.25 L1411.29,526.59 L1415.84,511.92 L1420.39,517.02 L1424.94,501.74 L1429.49,513.20 L1434.04,507.47 L1438.59,501.74 L1443.15,495.63 L1447.70,494.49 L1452.25,507.47 L1456.80,486.47 L1461.35,465.85 L1465.90,467.76 L1470.45,488.38 L1475.01,510.33 L1479.56,511.29 L1484.11,509.76 L1488.66,513.58 L1493.21,516.06 L1497.76,519.75 L1502.32,513.38 L1506.87,510.36 L1511.42,508.21 L1515.97,493.17 L1520.52,477.06 L1525.07,452.36 L1529.62,425.51 L1534.18,412.63 L1538.73,390.07 L1543.28,404.68 L1547.83,405.11 L1552.38,452.36 L1556.93,486.73 L1561.48,511.43 L1566.04,504.99 L1570.59,502.20 L1575.14,507.14 L1579.69,513.58 L1584.24,523.25 L1588.79,531.24 L1593.35,524.70 L1597.90,507.45 L1602.45,494.28 L1607.00,487.97 L1611.55,482.99 L1616.10,490.04 L1620.65,513.57 L1625.21,512.44 L1629.76,532.86 L1634.31,544.62 L1638.86,566.38 L1643.41,540.24 L1647.96,523.90 L1652.51,508.39 L1657.07,549.57 L1661.62,561.23 L1666.17,565.08 L1670.72,555.98 L1675.27,571.73 L1679.82,579.31 L1684.38,580.64 L1688.93,519.96 L1693.48,612.28 L1698.03,617.78 L1702.58,635.18 L1707.13,654.39 L1711.68,578.96 L1716.24,515.61 L1720.79,474.44 L1725.34,486.07 L1729.89,498.60 L1734.44,506.66 L1738.99,546.04 L1743.55,558.57 L1748.10,556.78 L1752.65,537.09 L1757.20,522.77 L1761.75,523.66" fill="none" stroke="#ff0000" stroke-width="3" stroke-linecap="round" stroke-linejoin="round"/>
<text x="757.7" y="22.8" font-family="Liberation Sans" font-weight="bold" font-size="15.4" fill="#000" stroke="#000" stroke-width="0.3" textLength="284.2" lengthAdjust="spacingAndGlyphs">The U.S. Private Sector Job Quality Index</text>
<text x="684.2" y="43.2" font-family="Liberation Sans" font-weight="bold" font-size="15.4" fill="#000" stroke="#000" stroke-width="0.3" textLength="431.7" lengthAdjust="spacingAndGlyphs">Reported as 3 Month Trailing Average of Monthly Base Inputs</text>
<text x="894.8" y="775.6" font-family="Liberation Sans" font-weight="bold" font-size="14.9" fill="#595959" stroke="#595959" stroke-width="0.25" textLength="31.8" lengthAdjust="spacingAndGlyphs">Date</text>
<text transform="translate(21.6,428.4) rotate(-90)" font-family="Liberation Sans" font-weight="bold" font-size="14.9" fill="#595959" stroke="#595959" stroke-width="0.25" textLength="120.2" lengthAdjust="spacingAndGlyphs">Job Quality Value</text>
<rect x="300.3" y="814.7" width="21.7" height="10" fill="#d9d9d9"/>
<text x="325" y="824.5" font-family="Liberation Sans" font-weight="bold" font-size="15.7" fill="#595959" stroke="#595959" stroke-width="0.25" textLength="68.7" lengthAdjust="spacingAndGlyphs">Recession</text>
<line x1="451.9" y1="819.7" x2="472.6" y2="819.7" stroke="#9ab2df" stroke-width="2.6" stroke-dasharray="0.01 5.12" stroke-linecap="round"/>
<text x="476.3" y="824.5" font-family="Liberation Sans" font-weight="bold" font-size="15.7" fill="#595959" stroke="#595959" stroke-width="0.25" textLength="338.7" lengthAdjust="spacingAndGlyphs">Fully Adjusted Job Quality Index Monthly Inputs</text>
<line x1="873" y1="819.7" x2="894.5" y2="819.7" stroke="#ff0000" stroke-width="3" stroke-linecap="round"/>
<text x="897.5" y="824.5" font-family="Liberation Sans" font-weight="bold" font-size="15.7" fill="#595959" stroke="#595959" stroke-width="0.25" textLength="604.5" lengthAdjust="spacingAndGlyphs" xml:space="preserve">The U.S. Private Sector Job Quality Index Reported Values (3  Month Moving Average)</text>
</svg></body></html>
